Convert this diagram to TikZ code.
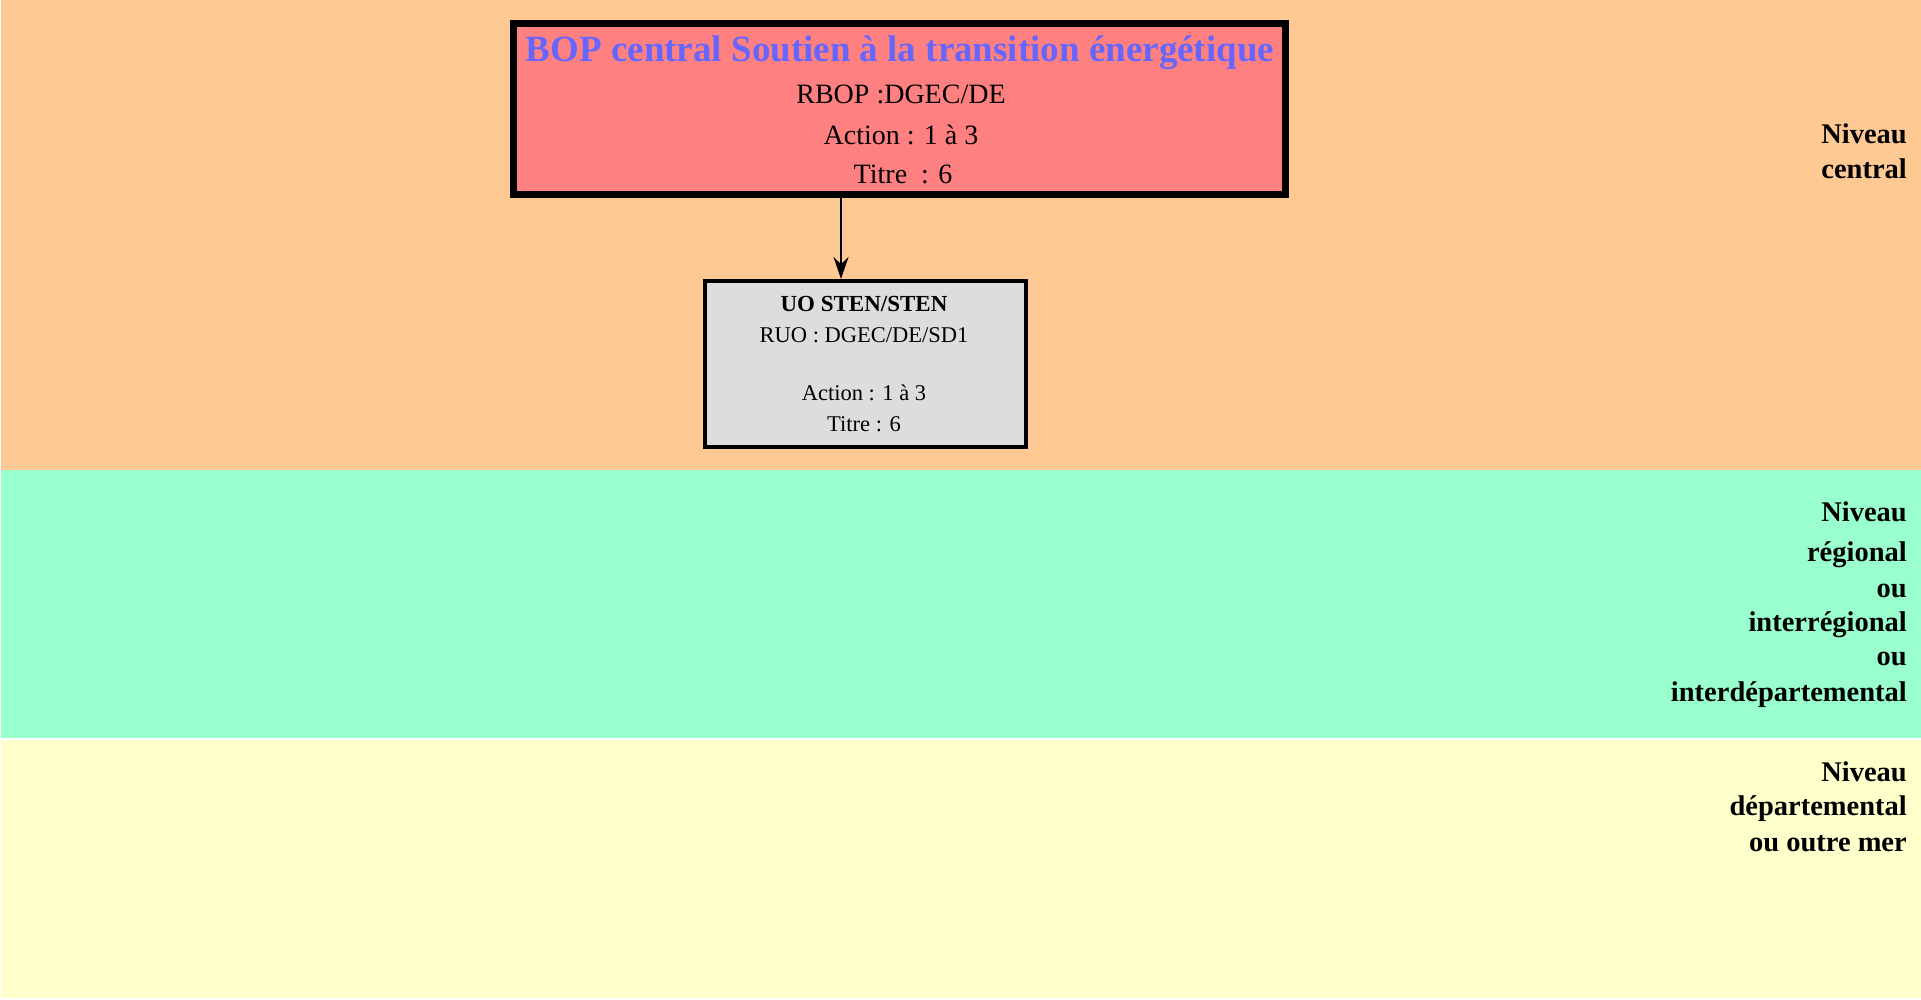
\documentclass[tikz,border=0pt]{standalone}
\usepackage{fontspec}
\setmainfont{Liberation Serif}
\usetikzlibrary{calc}
\usetikzlibrary{arrows.meta}

\definecolor{centralband}{HTML}{FFC993}
\definecolor{regionband}{HTML}{99FFCC}
\definecolor{deptband}{HTML}{FFFFCC}
\definecolor{bopred}{HTML}{FF8080}
\definecolor{uogray}{HTML}{DDDDDD}
\definecolor{bopblue}{HTML}{6666FF}

\tikzset{
 bopbox/.style={draw=black, line width=7pt, fill=bopred, minimum width=772pt, minimum height=171pt, inner sep=0},
 uobox/.style={draw=black, line width=4pt, fill=uogray, minimum width=321pt, minimum height=166pt, inner sep=0},
 boptxt/.style={anchor=base, inner sep=0, font=\fontsize{28}{34}\selectfont},
 uotxt/.style={anchor=base, inner sep=0, font=\fontsize{22.5}{28}\selectfont},
 level/.style={anchor=base east, inner sep=0, font=\bfseries\fontsize{28.5}{35}\selectfont},
 flow/.style={line width=2pt, -{Stealth[length=22pt,width=15pt]}},
}

\begin{document}
\begin{tikzpicture}[x=1pt,y=-1pt]
\useasboundingbox (0,0) rectangle (1921,999);
\fill[white] (0,0) rectangle (1921,999);
% bands
\fill[centralband] (1,0) rectangle (1921,470);
\fill[regionband] (1,470) rectangle (1921,738);
\fill[deptband] (1,740) rectangle (1921,998);
% boxes
\node[bopbox] (bop) at (899.5,109) {};
\node[uobox] (uo) at (865.5,364) {};
\node[boptxt, font=\bfseries\fontsize{37}{40}\selectfont, text=bopblue] (boptitle) at (900,61) {BOP central Soutien à la transition énergétique};
\node[boptxt] (boprbop) at (901,103) {RBOP :DGEC/DE};
\node[boptxt] (bopaction) at (901,144) {Action : 1 à 3};
\node[boptxt] (boptitre) at (903,183) {Titre\ \ : 6};
\node[uotxt, font=\bfseries\fontsize{23}{28}\selectfont] (uotitle) at (864,311) {UO STEN/STEN};
\node[uotxt] (uoruo) at (864,342) {RUO : DGEC/DE/SD1};
\node[uotxt] (uoaction) at (864,400) {Action : 1 à 3};
\node[uotxt] (uotitre) at (864,431) {Titre : 6};
% link
\coordinate (link) at (841,0);
\draw[flow] (link |- bop.south) -- (link |- uo.north);
% levels
\foreach \txt/\yy in {Niveau/143, central/178, Niveau/521, régional/561, ou/597, interrégional/631, ou/665, interdépartemental/701, Niveau/781, départemental/815, ou outre mer/851}
 \node[level] (lvl\yy) at (1907,\yy) {\txt};
\end{tikzpicture}
\end{document}
